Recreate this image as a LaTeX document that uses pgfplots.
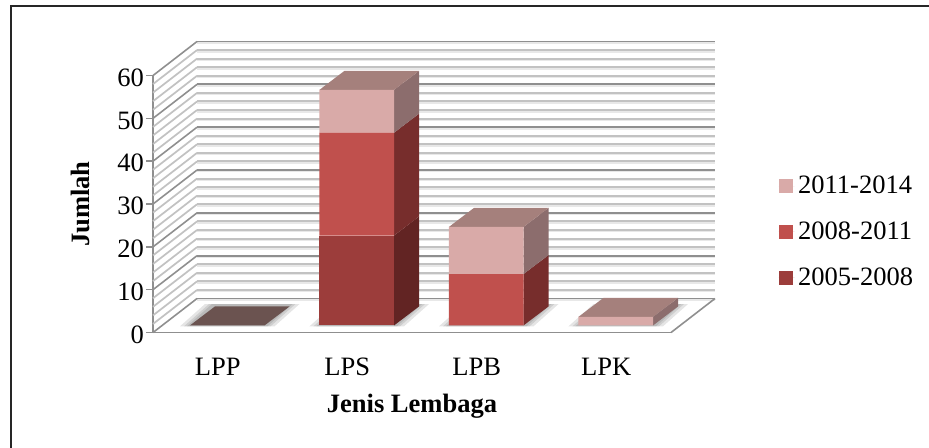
\documentclass[border=0pt]{standalone}
\usepackage{fontspec}
\setmainfont{Liberation Serif}
\usepackage{pgfplots}
\pgfplotsset{compat=1.18}

\definecolor{barA}{HTML}{9C3D3B}
\definecolor{barB}{HTML}{C0504D}
\definecolor{barC}{HTML}{D9AAA8}
\definecolor{sideA}{HTML}{622423}
\definecolor{sideB}{HTML}{772D2C}
\definecolor{sideC}{HTML}{8C6D6D}
\definecolor{topC}{HTML}{A5807C}
\definecolor{topZero}{HTML}{6B5350}
\definecolor{gridmajor}{HTML}{8F8F8F}
\definecolor{gridminor}{HTML}{C2C2C2}
\definecolor{gridsoft}{HTML}{E8E8E8}

\newcommand{\chartfont}{\fontsize{19.9}{24}\selectfont}

% same scale for the three depth planes: front wall, bar plane, back wall
\pgfplotsset{
    /pgf/number format/assume math mode=true,
    plane/.style={
        scale only axis,
        width=388.5pt,
        height=192.75pt,
        xmin=-0.5, xmax=3.5,
        ymin=0, ymax=60,
        anchor=south west,
        clip=false,
    },
    wallgrid/.style={
        plane,
        axis line style={draw=none},
        xtick=\empty,
        ytick={0,10,...,60},
        minor ytick={2,4,6,8,12,14,16,18,22,24,26,28,32,34,36,38,42,44,46,48,52,54,56,58},
        yticklabels={},
        tick style={draw=none},
        ymajorgrids, yminorgrids,
    },
}

% floor shadow, one layer
\newcommand{\shadowlayer}[4]{
    \addplot[fill=black, draw=none, opacity=0.10] coordinates {(#1,-0.2) (#2,-0.2) (#3,5.0) (#4,5.0)} -- cycle;
}

\begin{document}
\begin{tikzpicture}[x=0.75pt, y=0.75pt]
\useasboundingbox (0,0) rectangle (929,448);
\draw[black!85, line width=1.5pt] (10.5,-5) -- (10.5,442) -- (940,442);

% soft edge under the back wall lines
\begin{axis}[wallgrid, at={(147.75pt,110.9pt)},
    major grid style={gridsoft, line width=1.3pt},
    minor grid style={gridsoft, line width=1.3pt},
]
\end{axis}

% back wall
\begin{axis}[wallgrid, at={(147.75pt,112.1pt)},
    major grid style={gridmajor, line width=1.35pt},
    minor grid style={gridminor, line width=1.5pt},
]
\end{axis}

% front wall, floor edges and the labelled axis
\begin{axis}[plane, at={(114.75pt,86.6pt)},
    axis x line=bottom, axis y line=left,
    axis line style={-, gridmajor, line width=1.2pt},
    xtick={0,1,2,3},
    xticklabels={LPP,LPS,LPB,LPK},
    ytick={0,10,...,60},
    x tick style={draw=none},
    y tick style={gridmajor, line width=1.2pt},
    tick align=outside,
    major tick length=5.25pt,
    tick label style={font=\chartfont},
    xticklabel style={yshift=-10pt, text height=13.5pt, text depth=1pt},
    yticklabel style={xshift=2pt, yshift=-1.5pt},
    xlabel={\textbf{Jenis Lembaga}},
    ylabel={\textbf{Jumlah}},
    label style={font=\chartfont},
    xlabel style={at={(axis description cs:0.5,-0.288)}, anchor=center},
    ylabel style={at={(axis description cs:-0.141,0.5)}, anchor=center},
]
\addplot[gridminor, line width=1.3pt, quiver={u=0.34,v=7.94}] table[x expr=-0.5, y=v] {
v
2
4
6
8
12
14
16
18
22
24
26
28
32
34
36
38
42
44
46
48
52
54
56
58
};
\addplot[gridmajor, line width=1.2pt, quiver={u=0.34,v=7.94}] table[x expr=-0.5, y=v] {
v
0
10
20
30
40
50
60
};
\addplot[gridmajor, line width=1.2pt] coordinates {(3.5,0) (3.84,7.94)};
\end{axis}

% shadows, side and top faces in the bar plane
\begin{axis}[plane, at={(121.875pt,91.9pt)}, hide axis]
\shadowlayer{-0.365}{0.365}{0.558}{-0.172}
\shadowlayer{-0.334}{0.334}{0.527}{-0.141}
\shadowlayer{-0.311}{0.311}{0.504}{-0.118}
\shadowlayer{0.635}{1.365}{1.558}{0.828}
\shadowlayer{0.666}{1.334}{1.527}{0.859}
\shadowlayer{0.689}{1.311}{1.504}{0.882}
\shadowlayer{1.635}{2.365}{2.558}{1.828}
\shadowlayer{1.666}{2.334}{2.527}{1.859}
\shadowlayer{1.689}{2.311}{2.504}{1.882}
\shadowlayer{2.635}{3.365}{3.558}{2.828}
\shadowlayer{2.666}{3.334}{3.527}{2.859}
\shadowlayer{2.689}{3.311}{3.504}{2.882}
\addplot[fill=topZero, draw=none] coordinates {(-0.288,0) (0.288,0) (0.481,4.44) (-0.095,4.44)} -- cycle;
\addplot[fill=sideA, draw=none] coordinates {(1.288,0) (1.481,4.44) (1.481,25.44) (1.288,21)} -- cycle;
\addplot[fill=sideB, draw=none] coordinates {(1.288,21) (1.481,25.44) (1.481,49.44) (1.288,45)} -- cycle;
\addplot[fill=sideC, draw=none] coordinates {(1.288,45) (1.481,49.44) (1.481,59.44) (1.288,55)} -- cycle;
\addplot[fill=topC, draw=none] coordinates {(0.712,55) (1.288,55) (1.481,59.44) (0.905,59.44)} -- cycle;
\addplot[fill=sideB, draw=none] coordinates {(2.288,0) (2.481,4.44) (2.481,16.44) (2.288,12)} -- cycle;
\addplot[fill=sideC, draw=none] coordinates {(2.288,12) (2.481,16.44) (2.481,27.44) (2.288,23)} -- cycle;
\addplot[fill=topC, draw=none] coordinates {(1.712,23) (2.288,23) (2.481,27.44) (1.905,27.44)} -- cycle;
\addplot[fill=sideC, draw=none] coordinates {(3.288,0) (3.481,4.44) (3.481,6.44) (3.288,2)} -- cycle;
\addplot[fill=topC, draw=none] coordinates {(2.712,2) (3.288,2) (3.481,6.44) (2.905,6.44)} -- cycle;
\end{axis}

% front faces of the stacked bars and the legend
\begin{axis}[plane, at={(121.875pt,91.9pt)}, hide axis,
    ybar stacked,
    bar width=56pt,
    legend image code/.code={\fill[#1] (0pt,-5.25pt) rectangle (10.5pt,5.25pt); \path (0pt,0pt) -- (12pt,0pt);},
    reverse legend,
    legend cell align=left,
    legend style={
        at={(1.189,0.364)}, anchor=west,
        draw=none, fill=none,
        font=\chartfont,
        row sep=19.6pt,
        inner sep=0pt,
        nodes={inner xsep=2.6pt, inner ysep=0pt},
    },
]
\addplot[fill=barA, draw=none] coordinates {(0,0) (1,21) (2,0) (3,0)};
\addplot[fill=barB, draw=none] coordinates {(0,0) (1,24) (2,12) (3,0)};
\addplot[fill=barC, draw=none] coordinates {(0,0) (1,10) (2,11) (3,2)};
\legend{2005-2008,2008-2011,2011-2014}
\end{axis}
\end{tikzpicture}
\end{document}
